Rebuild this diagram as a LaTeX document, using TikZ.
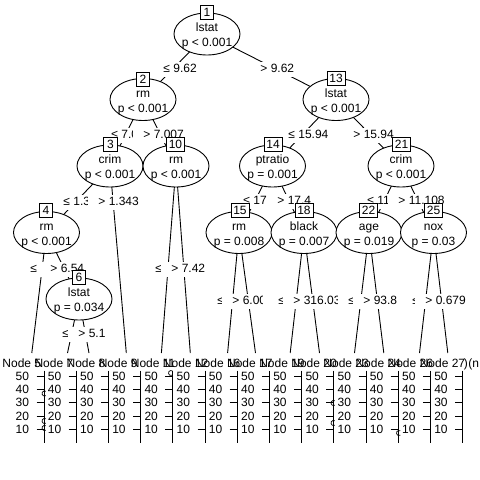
\documentclass[tikz,border=0pt]{standalone}
\usepackage{fontspec}
\setmainfont{Liberation Sans}
\usetikzlibrary{shapes.geometric}
\begin{document}
\begin{tikzpicture}[x=1pt,y=-1pt,line width=0.9pt,
  font=\fontsize{12}{14.4}\selectfont,
  ell/.style={ellipse,draw,fill=white,minimum width=66pt,minimum height=42pt,inner sep=0pt},
  vtext/.style={anchor=base,inner sep=0pt,yshift=2.5pt},
  ptext/.style={anchor=base,inner sep=0pt,yshift=-12.5pt},
  numbox/.style={draw,fill=white,inner xsep=2.3pt,inner ysep=0pt,minimum width=13.5pt,minimum height=14pt},
  lab/.style={fill=white,anchor=base west,inner xsep=#1,xshift=-#1,inner ysep=1.5pt,text height=9pt,text depth=3pt},
  lab/.default=10pt,
  hdr/.style={anchor=base west,inner sep=0pt},
  ylab/.style={anchor=east,inner sep=0pt}]
\useasboundingbox (0,0) rectangle (480,480);
\fill[white] (0,0) rectangle (480,480);
% inner node centres
\coordinate (p1) at (207,34);
\coordinate (p2) at (143,99.5);
\coordinate (p13) at (336,99.5);
\coordinate (p3) at (110,166);
\coordinate (p10) at (176,166);
\coordinate (p14) at (272.5,166);
\coordinate (p21) at (401,166);
\coordinate (p4) at (46.5,232.5);
\coordinate (p6) at (79,299);
\coordinate (p15) at (239,232.5);
\coordinate (p18) at (304,232.5);
\coordinate (p22) at (369,232.5);
\coordinate (p25) at (433.5,232.5);
% terminal tops
\coordinate (t5) at (31.8,353);
\coordinate (t7) at (67.5,353);
\coordinate (t8) at (89,353);
\coordinate (t9) at (126.3,353);
\coordinate (t11) at (161.4,353);
\coordinate (t12) at (190.3,353);
\coordinate (t16) at (227.6,353);
\coordinate (t17) at (255.5,353);
\coordinate (t19) at (290.2,353);
\coordinate (t20) at (319.5,353);
\coordinate (t23) at (354.5,353);
\coordinate (t24) at (383.8,353);
\coordinate (t26) at (419.5,353);
\coordinate (t27) at (447.8,353);
% edges
\draw (p1)--(p2) (p1)--(p13) (p2)--(p3) (p2)--(p10) (p3)--(p4) (p3)--(t9)
      (p4)--(t5) (p4)--(p6) (p6)--(t7) (p6)--(t8) (p10)--(t11) (p10)--(t12)
      (p13)--(p14) (p13)--(p21) (p14)--(p15) (p14)--(p18) (p15)--(t16) (p15)--(t17)
      (p18)--(t19) (p18)--(t20) (p21)--(p22) (p21)--(p25) (p22)--(t23) (p22)--(t24)
      (p25)--(t26) (p25)--(t27);
% edge labels (drawing order as in the tree recursion)
\node[lab] (l12) at (163,72.3) {≤ 9.62};
\node[lab] (l23) at (111,138.3) {≤ 7.0};
\node[lab] (l34) at (63,205.3) {≤ 1.3};
\node[lab] (l45) at (30,272.3) {≤};
\node[lab] (l46) at (50,272.3) {> 6.54};
\node[lab] (l67) at (62,337.3) {≤};
\node[lab] (l68) at (78,337.3) {> 5.1};
\node[lab] (l39) at (98,205.3) {> 1.343};
\node[lab] (l210) at (143,138.3) {> 7.007};
\node[lab] (l1011) at (155,272.3) {≤};
\node[lab] (l1012) at (171,272.3) {> 7.42};
\node[lab] (l113) at (260,72.3) {> 9.62};
\node[lab] (l1314) at (288,138.3) {≤ 15.94};
\node[lab] (l1415) at (243,204.3) {≤ 17};
\node[lab] (l1516) at (217,304.3) {≤};
\node[lab] (l1517) at (232,304.3) {> 6.00};
\node[lab] (l1418) at (277,204.3) {> 17.4};
\node[lab=15pt] (l1819) at (278,304.3) {≤};
\node[lab] (l1820) at (293,304.3) {> 316.03};
\node[lab] (l1321) at (353,138.3) {> 15.94};
\node[lab] (l2122) at (367,204.3) {≤ 11};
\node[lab] (l2223) at (348,304.3) {≤};
\node[lab] (l2224) at (363,304.3) {> 93.8};
\node[lab] (l2125) at (398,204.3) {> 11.108};
\node[lab] (l2526) at (412,304.3) {≤};
\node[lab] (l2527) at (425,304.3) {> 0.679};
% inner nodes
\node[ell] (n1) at (p1) {};   \node[vtext] (n1v) at (p1) {lstat};   \node[ptext] (n1p) at (p1) {p < 0.001};
\node[ell] (n2) at (p2) {};   \node[vtext] (n2v) at (p2) {rm};      \node[ptext] (n2p) at (p2) {p < 0.001};
\node[ell] (n3) at (p3) {};   \node[vtext] (n3v) at (p3) {crim};    \node[ptext] (n3p) at (p3) {p < 0.001};
\node[ell] (n4) at (p4) {};   \node[vtext] (n4v) at (p4) {rm};      \node[ptext] (n4p) at (p4) {p < 0.001};
\node[ell] (n6) at (p6) {};   \node[vtext] (n6v) at (p6) {lstat};   \node[ptext] (n6p) at (p6) {p = 0.034};
\node[ell] (n10) at (p10) {}; \node[vtext] (n10v) at (p10) {rm};    \node[ptext] (n10p) at (p10) {p < 0.001};
\node[ell] (n13) at (p13) {}; \node[vtext] (n13v) at (p13) {lstat}; \node[ptext] (n13p) at (p13) {p < 0.001};
\node[ell] (n14) at (p14) {}; \node[vtext] (n14v) at (p14) {ptratio}; \node[ptext] (n14p) at (p14) {p = 0.001};
\node[ell] (n15) at (p15) {}; \node[vtext] (n15v) at (p15) {rm};    \node[ptext] (n15p) at (p15) {p = 0.008};
\node[ell] (n18) at (p18) {}; \node[vtext] (n18v) at (p18) {black}; \node[ptext] (n18p) at (p18) {p = 0.007};
\node[ell] (n21) at (p21) {}; \node[vtext] (n21v) at (p21) {crim};  \node[ptext] (n21p) at (p21) {p < 0.001};
\node[ell] (n22) at (p22) {}; \node[vtext] (n22v) at (p22) {age};   \node[ptext] (n22p) at (p22) {p = 0.019};
\node[ell] (n25) at (p25) {}; \node[vtext] (n25v) at (p25) {nox};   \node[ptext] (n25p) at (p25) {p = 0.03};
% id boxes
\node[numbox] (b1) at (207,12) {1};
\node[numbox] (b2) at (143,79) {2};
\node[numbox] (b13) at (336,78) {13};
\node[numbox] (b3) at (110.5,144) {3};
\node[numbox] (b10) at (175.5,144) {10};
\node[numbox] (b14) at (273,144) {14};
\node[numbox] (b21) at (401.5,144) {21};
\node[numbox] (b4) at (46,210.5) {4};
\node[numbox] (b6) at (79,277.5) {6};
\node[numbox] (b15) at (240,210.5) {15};
\node[numbox] (b18) at (304,210.5) {18};
\node[numbox] (b22) at (368.5,210.5) {22};
\node[numbox] (b25) at (433.5,210.5) {25};
% terminal panels
\foreach \k/\n in {0/5,1/7,2/8,3/9,4/11,5/12,6/16,7/17,8/19,9/20,10/23,11/24,12/26}
  \node[hdr] (h\n) at (2+32.1*\k,367.3) {Node \n};
\node[hdr] (h27) at (419.3,367.3) {Node 27 (n};
\node[hdr] (h27b) at (463.5,367.3) {)};
\foreach \k in {0,...,13}{
  \draw (44+32.2*\k,370.5) -- (44+32.2*\k,443);
  \foreach \v in {10,20,30,40,50}{
    \draw (44+32.2*\k-7.5,442.7-1.335*\v) -- (44+32.2*\k,442.7-1.335*\v);
    \node[ylab] (y\k v\v) at (44+32.2*\k-14.5,442.7-1.335*\v) {\v};
  }
}
\foreach \x/\y in {44.5/393.5,44.5/421,44.5/428,171/373,333.5/403,333.5/423,399/433}
  \draw[line width=0.7pt] (\x,\y) ++(60:2.5pt) arc[start angle=60,end angle=300,radius=2.5pt];
\end{tikzpicture}
\end{document}
